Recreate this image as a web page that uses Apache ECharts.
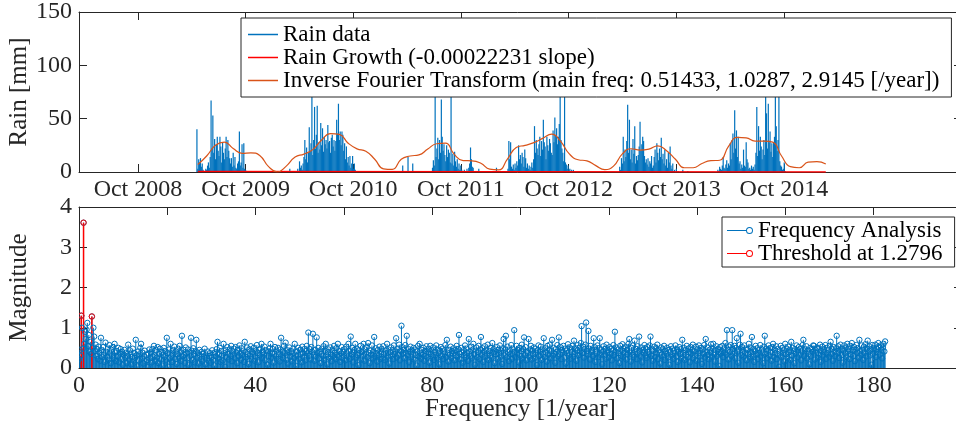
<!DOCTYPE html>
<html>
<head>
<meta charset="utf-8">
<script src="https://cdn.jsdelivr.net/npm/echarts@6/dist/echarts.min.js"></script>
<style>
  html, body { margin: 0; padding: 0; background: #ffffff; }
  #chart { width: 956px; height: 423px; }
</style>
</head>
<body>
<div id="chart"></div>
<script>
// ---------- Daily rain (mm), one value every 3 days within each rainy season ----------
const rainStepDays = 3;
const seasonStarts = ['2009-04-19', '2010-03-27', '2011-06-27', '2012-03-09', '2013-03-23', '2014-02-19'];
const rain2009 = [40, 3, 12, 9, 13, 5, 8, 2, 0, 1, 3, 2, 6, 9, 4, 14, 67, 22, 53, 18, 31, 12, 26, 33, 20, 15, 33, 24, 9, 28, 18, 12, 22, 33, 14, 30, 20, 13, 8, 13, 5, 18, 6, 14, 4, 3, 8, 10, 38, 6, 9, 26, 4, 27, 3, 2, 1];
const rain2010 = [3, 1, 10, 4, 6, 2, 8, 14, 30, 12, 23, 9, 18, 42, 20, 27, 87, 16, 30, 61, 22, 35, 62, 18, 28, 21, 46, 25, 41, 19, 33, 26, 30, 22, 44, 28, 29, 18, 32, 35, 24, 30, 20, 29, 49, 36, 64, 30, 38, 25, 38, 35, 20, 27, 12, 24, 9, 14, 6, 15, 4, 8, 15, 3, 8, 2, 1];
const rain2011 = [4, 11, 6, 83, 14, 22, 32, 12, 30, 18, 68, 33, 20, 26, 16, 10, 25, 14, 21, 18, 9, 76, 8, 17, 6, 19, 10, 5, 12, 3, 8, 2, 6, 2, 1, 0, 2, 0, 1, 3, 0, 4, 8, 23, 12, 5, 4, 1];
const rain2012 = [3, 29, 12, 28, 5, 3, 7, 2, 8, 4, 10, 6, 25, 12, 16, 8, 18, 14, 5, 21, 13, 4, 8, 3, 6, 2, 5, 9, 4, 12, 43, 18, 30, 22, 16, 26, 33, 15, 29, 21, 49, 28, 24, 12, 33, 25, 20, 31, 27, 18, 16, 39, 28, 51, 34, 41, 26, 33, 45, 75, 30, 22, 18, 10, 72, 9, 7, 3, 6, 2, 3, 1, 2, 0, 2];
const rain2013 = [5, 2, 13, 8, 33, 10, 21, 14, 29, 63, 18, 49, 12, 21, 9, 31, 17, 43, 8, 15, 11, 16, 24, 47, 20, 26, 33, 29, 15, 9, 12, 7, 13, 5, 10, 8, 15, 4, 6, 14, 21, 9, 27, 18, 11, 22, 14, 32, 12, 17, 8, 21, 6, 12, 4, 18, 9, 24, 6, 3, 8, 1, 2, 0, 3, 0, 1];
const rain2014 = [2, 1, 5, 3, 2, 6, 14, 4, 3, 7, 11, 4, 8, 6, 27, 12, 30, 36, 18, 58, 22, 39, 14, 33, 8, 10, 3, 7, 4, 21, 6, 5, 28, 12, 9, 3, 4, 2, 6, 3, 5, 2, 7, 18, 61, 15, 43, 20, 33, 24, 12, 21, 30, 16, 82, 55, 22, 64, 28, 38, 19, 27, 14, 28, 33, 88, 43, 20, 30, 81, 10, 6, 5, 2, 3, 9, 1];
const rainSeasons = [rain2009, rain2010, rain2011, rain2012, rain2013, rain2014];
// isolated showers outside the main seasons
const isolatedRainDates = ['2010-02-28', '2011-03-18', '2011-04-05', '2011-04-21', '2011-12-01', '2012-01-30', '2013-10-23', '2013-11-09'];
const isolatedRainValues = [3, 6, 14, 8, 3, 4, 2, 1];

// ---------- Linear trend and reconstructed signal ----------
const growthDates = ['2009-04-22', '2015-02-20'];
const growthValues = [0.5, 0.03];
const fourierStart = '2009-04-22';
const fourierStepDays = 30;
const fourierValues = [7, 15, 25, 28, 22, 17.5, 18, 15.5, 5, 0, 5.5, 14, 16.8, 21, 30, 36, 35.3, 27, 21.7, 19.5,
  12, 3, 2.5, 12, 15, 16, 21.5, 26.5, 27, 16.5, 10.7, 10.5, 8.2, 2.7, 2, 12, 23, 25, 27.5, 31.5,
  35.5, 29, 17, 11.5, 10.5, 6, 2.3, 5.5, 17, 21.8, 20.6, 21.5, 24.5, 20, 12, 4, 4, 8, 10.6, 11,
  24, 32.5, 32, 29, 29, 28, 15, 5, 4, 9.2, 9.7, 7.5];

// ---------- Time axis ----------
const timeRange = ['2008-03-15', '2016-05-27'];
const timeTickDates = ['2008-10-01', '2009-10-01', '2010-10-01', '2011-10-01', '2012-10-01', '2013-10-01', '2014-10-01'];
const monthNames = ['Jan', 'Feb', 'Mar', 'Apr', 'May', 'Jun', 'Jul', 'Aug', 'Sep', 'Oct', 'Nov', 'Dec'];

// ---------- Frequency axis ----------
const freqTicks = [0, 20, 40, 60, 80, 100, 120, 140, 160, 180, 200];
const freqTickLabels = [0, 20, 40, 60, 80, 100, 120, 140, 160, 180];

// ---------- Spectrum: magnitude (x0.01) per frequency bin ----------
const freqStep = 0.171443; // [1/year]
const threshold = 1.2796;
const magnitudeHundredths = [
  22,45,30,130,100,48,361,60,90,72,95,112,55,82,40,65,35,128,50,100,78,42,58,30,47,22,53,38,18,75,44,27,52,33,15,63,40,28,48,20,57,36,12,45,31,52,24,60,38,17,
  42,29,50,14,36,47,22,40,8,33,45,26,38,12,30,58,21,44,35,9,27,48,18,37,25,70,32,4,41,19,34,50,60,23,38,11,29,43,16,33,20,2,36,46,24,39,14,47,28,55,
  31,17,44,26,52,12,35,48,21,40,6,33,50,27,42,19,75,37,3,46,24,60,30,15,44,36,53,22,41,10,34,48,25,55,39,18,80,29,45,33,12,51,37,24,46,8,38,30,75,43,
  20,49,34,14,42,70,26,38,11,45,31,22,40,16,35,28,48,9,33,25,41,18,30,37,13,27,44,20,36,6,39,29,47,65,23,34,50,15,42,31,19,60,37,3,44,26,52,35,21,46,
  30,55,17,41,33,48,24,52,38,12,45,29,56,36,20,49,32,43,15,65,39,27,51,34,10,46,30,54,22,40,35,50,18,43,28,57,37,14,45,31,48,60,25,40,33,53,19,44,36,8,
  41,30,49,60,26,38,47,13,35,52,29,43,21,50,34,16,46,75,32,40,24,55,37,63,20,44,11,39,51,28,42,17,36,48,25,60,33,5,41,30,50,22,45,35,14,53,38,27,47,19,
  42,55,36,88,30,47,21,52,40,85,33,18,45,28,76,37,50,24,41,12,35,48,29,54,20,43,60,31,9,39,46,25,51,34,17,44,30,55,38,22,49,33,60,27,42,15,36,52,24,40,
  31,47,19,53,36,28,60,42,23,78,34,50,14,39,45,60,26,48,32,7,44,37,55,21,40,30,60,18,46,35,52,27,62,38,12,43,33,56,24,41,77,29,49,36,16,45,31,53,22,39,
  47,25,54,34,20,43,37,60,28,46,11,39,51,30,44,22,56,35,41,74,26,48,33,58,19,42,105,52,36,45,24,57,38,80,31,47,14,40,53,27,44,35,50,21,46,32,6,41,55,29,
  60,37,23,45,33,50,18,42,30,54,26,39,47,13,55,35,44,28,51,20,40,32,56,24,46,37,9,43,52,30,48,22,41,35,57,27,70,38,16,45,33,53,25,42,36,49,19,44,31,55,
  28,47,82,35,21,50,39,13,44,32,56,26,48,37,18,72,41,30,53,24,45,60,34,8,43,51,27,39,55,22,46,77,33,49,15,40,54,29,44,36,58,20,42,31,50,25,62,38,47,12,
  41,34,52,23,45,37,56,28,43,10,49,72,31,46,80,26,53,39,17,44,35,57,22,48,33,94,40,27,55,36,45,14,50,30,42,58,24,47,76,32,52,19,41,37,72,28,46,55,21,43,
  34,51,25,48,38,7,44,56,30,41,53,20,46,35,74,27,49,39,16,55,33,45,58,24,42,70,31,50,36,13,47,40,57,29,76,34,52,22,45,38,55,26,48,11,43,37,59,30,51,23,
  46,39,55,28,68,35,49,18,44,57,32,50,41,62,104,37,53,26,47,58,113,42,34,92,48,21,55,39,45,30,74,52,15,43,36,56,27,49,74,33,46,9,40,54,31,47,23,58,38,44,
  26,52,35,48,19,43,57,32,90,40,51,24,46,37,12,55,30,44,59,28,49,38,53,21,45,35,60,72,41,16,50,33,56,27,68,39,47,22,54,36,78,43,29,51,14,45,38,57,31,48,
  25,52,40,34,56,78,30,46,18,43,53,27,49,36,58,22,44,38,11,51,33,47,28,55,20,42,35,50,26,45,8,39,54,31,48,23,43,37,56,29,46,15,41,52,34,47,25,70,38,50,
  20,44,33,55,27,48,39,14,52,36,45,58,24,41,31,53,18,47,37,56,29,43,50,10,46,35,57,26,72,40,32,51,22,45,38,59,28,49,60,34,16,44,54,30,47,39,5,52,36,42,
  55,27,48,38,62,33,94,45,21,53,40,57,30,94,47,36,55,24,50,74,41,13,46,58,85,32,52,43,28,56,37,48,19,45,34,60,26,51,39,77,30,47,15,42,55,33,49,22,44,36,
  57,29,46,38,12,53,80,35,48,24,43,56,31,49,40,18,52,60,27,45,36,54,22,47,33,3,41,55,28,50,37,44,16,60,34,48,25,53,39,45,20,65,31,50,42,12,47,36,56,27,
  44,52,33,48,19,41,57,70,30,46,38,54,24,43,35,9,50,29,47,40,56,55,21,45,37,51,26,48,33,58,15,42,53,31,46,39,57,23,50,36,44,28,55,65,34,47,18,52,40,30,
  49,80,37,54,25,45,58,32,48,13,43,56,36,51,27,60,41,47,22,55,34,62,44,30,52,17,46,57,38,49,26,70,42,33,56,45,20,53,37,59,29,48,68,40,54,31,46,8,57,35,
  50,43,58,27,47,39,62,52,33,56,45,24,51,60,41,66
];

// ---------- Series names ----------
const NAME_RAIN = 'Rain data';
const NAME_GROWTH = 'Rain Growth (-0.00022231 slope)';
const NAME_IFT = 'Inverse Fourier Transform (main freq: 0.51433, 1.0287, 2.9145 [/year])';
const NAME_FREQ = 'Frequency Analysis';
const NAME_THR = 'Threshold at 1.2796';

// ---------- Build series data ----------
const DAY = 86400000;
const ts = s => Date.parse(s);

const rainPoints = [];
rainSeasons.forEach((vals, s) => {
  const t0 = ts(seasonStarts[s]);
  vals.forEach((v, i) => rainPoints.push([t0 + i * rainStepDays * DAY, v]));
});
isolatedRainDates.forEach((d, i) => rainPoints.push([ts(d), isolatedRainValues[i]]));

const growthPoints = growthDates.map((d, i) => [ts(d), growthValues[i]]);
const fourierPoints = fourierValues.map((v, i) => [ts(fourierStart) + i * fourierStepDays * DAY, v]);

const spectrum = magnitudeHundredths.map((m, k) => [k * freqStep, m / 100]);
const aboveThreshold = spectrum.filter(p => p[1] >= threshold);

const timeTicks = timeTickDates.map(ts);

// ---------- Styling helpers ----------
const FONT = "'Liberation Serif', 'Times New Roman', serif";
const AXIS_COLOR = '#262626';
const BLUE = '#0072BD';
const ORANGE = '#D95319';
const RED = '#FF0000';
const TICK_LEN = 8;

function axisBase(extra) {
  return Object.assign({
    axisLine: { show: true, onZero: false, lineStyle: { color: AXIS_COLOR, width: 1 } },
    axisTick: { show: true, inside: true, length: TICK_LEN, lineStyle: { color: AXIS_COLOR, width: 1 } },
    axisLabel: { show: true, color: AXIS_COLOR, fontFamily: FONT, fontSize: 24 },
    splitLine: { show: false },
    nameMoveOverlap: false,
    nameTextStyle: { color: AXIS_COLOR, fontFamily: FONT, fontSize: 25 }
  }, extra);
}

function stemRenderer(color, stemWidth) {
  return function (params, api) {
    const base = api.coord([api.value(0), 0]);
    const tip = api.coord([api.value(0), api.value(1)]);
    return {
      type: 'group',
      children: [
        { type: 'line', z2: 0, shape: { x1: base[0], y1: base[1], x2: tip[0], y2: tip[1] },
          style: { stroke: color, lineWidth: stemWidth } },
        { type: 'circle', z2: 1, shape: { cx: tip[0], cy: tip[1], r: 2.7 },
          style: { fill: 'none', stroke: color, lineWidth: 1 } }
      ]
    };
  };
}

// legend glyph for a stem: a short line ending in an open circle
const STEM_ICON = 'path://M0,3H19V4H0Z M26,3.5A3.5,3.5 0 1 0 19,3.5A3.5,3.5 0 1 0 26,3.5Z M25,3.5A2.5,2.5 0 1 1 20,3.5A2.5,2.5 0 1 1 25,3.5Z';

const timeLabelFormatter = v => {
  const d = new Date(v);
  return monthNames[d.getUTCMonth()] + ' ' + d.getUTCFullYear();
};

const option = {
  animation: false,
  backgroundColor: '#ffffff',
  grid: [
    { left: 79, top: 12, width: 883, height: 160, containLabel: false, outerBoundsMode: 'none' },
    { left: 79, top: 207, width: 883, height: 161, containLabel: false, outerBoundsMode: 'none' }
  ],
  xAxis: [
    axisBase({
      type: 'value', gridIndex: 0, position: 'bottom',
      min: ts(timeRange[0]), max: ts(timeRange[1]),
      axisTick: { show: true, inside: true, length: TICK_LEN, customValues: timeTicks, lineStyle: { color: AXIS_COLOR } },
      axisLabel: { show: true, customValues: timeTicks, formatter: timeLabelFormatter, color: AXIS_COLOR, fontFamily: FONT, fontSize: 24, margin: 6 }
    }),
    axisBase({
      type: 'value', gridIndex: 0, position: 'top',
      min: ts(timeRange[0]), max: ts(timeRange[1]),
      axisTick: { show: true, inside: true, length: TICK_LEN, customValues: timeTicks, lineStyle: { color: AXIS_COLOR } },
      axisLabel: { show: false }
    }),
    axisBase({
      type: 'value', gridIndex: 1, position: 'bottom', min: 0, max: 200,
      name: 'Frequency [1/year]', nameLocation: 'middle', nameGap: 29,
      axisTick: { show: true, inside: true, length: TICK_LEN, customValues: freqTicks, lineStyle: { color: AXIS_COLOR } },
      axisLabel: { show: true, customValues: freqTickLabels, color: AXIS_COLOR, fontFamily: FONT, fontSize: 24, margin: 6 }
    }),
    axisBase({
      type: 'value', gridIndex: 1, position: 'top', min: 0, max: 200,
      axisTick: { show: true, inside: true, length: TICK_LEN, customValues: freqTicks, lineStyle: { color: AXIS_COLOR } },
      axisLabel: { show: false }
    })
  ],
  yAxis: [
    axisBase({
      type: 'value', gridIndex: 0, position: 'left', min: 0, max: 150, interval: 50,
      name: 'Rain [mm]', nameLocation: 'middle', nameGap: 47,
      axisLabel: { show: true, color: AXIS_COLOR, fontFamily: FONT, fontSize: 24, margin: 7 }
    }),
    axisBase({
      type: 'value', gridIndex: 0, position: 'right', min: 0, max: 150, interval: 50,
      axisLabel: { show: false }
    }),
    axisBase({
      type: 'value', gridIndex: 1, position: 'left', min: 0, max: 4, interval: 1,
      name: 'Magnitude', nameLocation: 'middle', nameGap: 47,
      axisLabel: { show: true, color: AXIS_COLOR, fontFamily: FONT, fontSize: 24, margin: 7 }
    }),
    axisBase({
      type: 'value', gridIndex: 1, position: 'right', min: 0, max: 4, interval: 1,
      axisLabel: { show: false }
    })
  ],
  legend: [
    {
      orient: 'vertical', left: 241, top: 18,
      data: [NAME_RAIN, NAME_GROWTH, NAME_IFT],
      icon: 'rect', itemWidth: 30, itemHeight: 1.5, itemGap: 0, itemTextGap: 5,
      padding: [5, 12, 5, 7],
      backgroundColor: '#ffffff', borderColor: AXIS_COLOR, borderWidth: 1, borderRadius: 0,
      textStyle: { color: '#000000', fontFamily: FONT, fontSize: 23, lineHeight: 17.5 }
    },
    {
      orient: 'vertical', left: 722, top: 217,
      data: [{ name: NAME_FREQ, icon: STEM_ICON }, { name: NAME_THR, icon: STEM_ICON }],
      itemWidth: 26, itemHeight: 7, itemGap: 0, itemTextGap: 9,
      padding: [2, 12, 2, 5],
      backgroundColor: '#ffffff', borderColor: AXIS_COLOR, borderWidth: 1, borderRadius: 0,
      textStyle: { color: '#000000', fontFamily: FONT, fontSize: 23, lineHeight: 16.5 }
    }
  ],
  series: [
    {
      name: NAME_RAIN, type: 'bar', xAxisIndex: 0, yAxisIndex: 0,
      data: rainPoints, barWidth: 1.2, itemStyle: { color: BLUE }
    },
    {
      name: NAME_GROWTH, type: 'line', xAxisIndex: 0, yAxisIndex: 0,
      data: growthPoints, showSymbol: false, lineStyle: { color: RED, width: 1.5 }, itemStyle: { color: RED }
    },
    {
      name: NAME_IFT, type: 'line', xAxisIndex: 0, yAxisIndex: 0, smooth: true,
      data: fourierPoints, showSymbol: false, lineStyle: { color: ORANGE, width: 1.2 }, itemStyle: { color: ORANGE }
    },
    {
      name: NAME_FREQ, type: 'custom', xAxisIndex: 2, yAxisIndex: 2, clip: true,
      data: spectrum, renderItem: stemRenderer(BLUE, 1), itemStyle: { color: BLUE }
    },
    {
      name: NAME_THR, type: 'custom', xAxisIndex: 2, yAxisIndex: 2, clip: true,
      data: aboveThreshold, renderItem: stemRenderer(RED, 1.5), itemStyle: { color: RED }
    }
  ]
};

const chart = echarts.init(document.getElementById('chart'), null, { renderer: 'canvas' });
chart.setOption(option);
</script>
</body>
</html>
